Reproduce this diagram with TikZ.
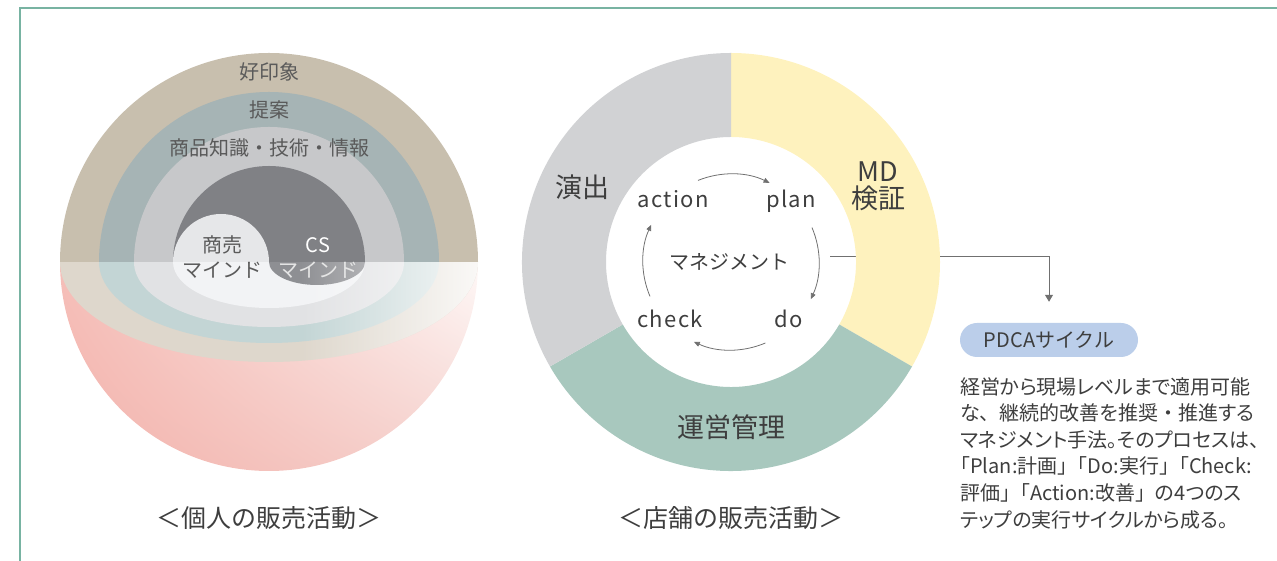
\documentclass[tikz,border=0pt]{standalone}
\usepackage{fontspec}
\setmainfont{Noto Sans CJK JP}
\newfontfamily\latinwide[LetterSpace=6]{Noto Sans CJK JP}
\newfontfamily\notefont[RawFeature=+palt]{Noto Sans CJK JP}
\newcommand{\fullw}[1]{{\normalfont\fontsize{20}{26.6}\selectfont#1}}
\usetikzlibrary{arrows.meta,positioning,calc,fadings,shadings}
\definecolor{framegreen}{HTML}{78B3A2}
\definecolor{ringbeige}{HTML}{C8BFAE}
\definecolor{ringblue}{HTML}{A6B4B5}
\definecolor{ringgray}{HTML}{C7C8CA}
\definecolor{coredark}{HTML}{808185}
\definecolor{corelight}{HTML}{E6E7E9}
\definecolor{facebeige}{HTML}{DED7CC}
\definecolor{faceblue}{HTML}{C3D5D5}
\definecolor{facegray}{HTML}{E1E2E4}
\definecolor{facewhite}{HTML}{F2F3F5}
\definecolor{facedark}{HTML}{8E8F93}
\definecolor{pinkdeep}{HTML}{F3B1AA}
\definecolor{pinkmid}{HTML}{F5D3CF}
\definecolor{pinkpale}{HTML}{FEF8F7}
\definecolor{mdyellow}{HTML}{FEF2BE}
\definecolor{opsgreen}{HTML}{A8C8BE}
\definecolor{showgray}{HTML}{D1D2D4}
\definecolor{pillblue}{HTML}{BBCEEA}
\definecolor{darktext}{HTML}{3E3E3E}
\definecolor{bandtext}{HTML}{5A5A5A}
\definecolor{linegray}{HTML}{707070}
\tikzfading[name=fade in right, left color=transparent!100, right color=transparent!15]

\begin{document}
\begin{tikzpicture}[x=1pt,y=1pt,
    band/.style={font=\fontsize{20}{20}\selectfont, text=bandtext, inner sep=0},
    caption/.style={font=\fontsize{25}{25}\selectfont, text=darktext, inner sep=0},
    seglabel/.style={font=\fontsize{27}{27}\selectfont, text=darktext, inner sep=0},
    cyclabel/.style={font=\latinwide\fontsize{22}{22}\selectfont, text=darktext, anchor=base, inner sep=0},
    cycarrow/.style={linegray, line width=0.8pt, -{Triangle[length=6pt,width=5pt]}},
    pill/.style={fill=pillblue, rounded corners=17pt, minimum width=178pt, minimum height=34pt,
      font=\fontsize{20}{20}\selectfont, text=darktext},
    body/.style={font=\notefont\fontsize{20}{26.6}\selectfont, text=darktext, align=left, inner sep=0}]
\useasboundingbox (0,0) rectangle (1277,561);
\draw[framegreen, line width=2pt] (20,-2) -- (20,552.5) -- (1280,552.5);

% hemisphere: bowl, cut face, then the upper half rings
\coordinate (hemi) at (269,299);
\shade[upper left=pinkdeep!80!pinkpale, lower left=pinkdeep, upper right=pinkpale, lower right=pinkmid]
  (hemi) ++(209,0) arc[start angle=0, end angle=-180, radius=209] -- cycle;
\foreach \r/\h/\c in {209/100/facebeige, 170/81/faceblue, 135/65/facegray, 96/46/facewhite}
  \fill[\c] (hemi) ++(\r,0) arc[start angle=0, end angle=-180, x radius=\r, y radius=\h] -- cycle;
\fill[facedark] (317,299) ++(48,0) arc[start angle=0, end angle=-180, x radius=48, y radius=23] -- cycle;
\begin{scope}
  \clip (hemi) ++(209,0) arc[start angle=0, end angle=-180, x radius=209, y radius=100] -- cycle;
  \fill[white, path fading=fade in right] (300,198) rectangle (479,299);
\end{scope}
\foreach \r/\c in {209/ringbeige, 170/ringblue, 135/ringgray, 96/coredark}
  \fill[\c] (hemi) ++(-\r,0) arc[start angle=180, end angle=0, radius=\r] -- cycle;
\fill[corelight] (221,299) ++(-48,0) arc[start angle=180, end angle=0, radius=48] -- cycle;

\node[band] (impression) at (269,489) {好印象};
\node[band] (proposal) at (269,451) {提案};
\node[band] (knowledge) at (269,413) {商品知識・技術・情報};
\node[band, text=darktext!85] (tradeTop) at (222,316) {商売};
\node[band, text=darktext!85] (tradeMind) at (222,291) {マインド};
\node[band, text=white] (csTop) at (318,316) {CS};
\node[band, text=white!90!black] (csMind) at (318,291) {マインド};
\node[caption] (personal) at (269,43) {＜個人の販売活動＞};

% store ring
\coordinate (store) at (731,299);
\coordinate (pdcaIn) at (830,304);
\node[pill] (pdca) at (1049,221) {PDCAサイクル};
\coordinate (pdcaTip) at ($(pdca.north)+(0,21)$);
\draw[linegray, line width=1pt, -{Triangle[length=7pt,width=8pt]}] (pdcaIn) -| (pdcaTip);

\foreach \a/\c [evaluate=\a as \b using \a-120] in {90/mdyellow, -30/opsgreen, 210/showgray}
  \fill[\c] ($(store)+(\a:209)$) arc[start angle=\a, end angle=\b, radius=209]
    -- ($(store)+(\b:125)$) arc[start angle=\b, end angle=\a, radius=125] -- cycle;

\node[seglabel] (show) at (582,374) {演出};
\node[seglabel, align=center] (md) at (878,375) {MD\\検証};
\node[seglabel] (ops) at (731,134) {運営管理};

\node[font=\fontsize{20}{20}\selectfont, text=darktext, inner sep=0] (mgmt) at (729,299) {マネジメント};
\node[cyclabel] (action) at (673,353) {action};
\node[cyclabel] (plan) at (791,353) {plan};
\node[cyclabel] (check) at (670,233) {check};
\node[cyclabel] (do) at (789,233) {do};
\foreach \s [evaluate=\s as \e using \s-48] in {112,23,-67,203}
  \draw[cycarrow] ([shift={(\s:88)}]store) arc[start angle=\s, end angle=\e, radius=88];

\node[caption] (storeCap) at (731,43) {＜店舗の販売活動＞};

% note, kana set proportionally, some punctuation kept full width
\node[body, anchor=north west] (pdcaNote) at (960,184) {経営から現場レベルまで適用可能\\
な\fullw{、}継続的改善を推奨\fullw{・}推進する\\
マネジメント手法。そのプロセスは、\\
「Plan:計画\fullw{」}「Do:実行\fullw{」}「Check:\\
評価\fullw{」}「Action:改善\fullw{」}の4つのス\\
テップの実行サイクルから成る。};
\end{tikzpicture}
\end{document}
